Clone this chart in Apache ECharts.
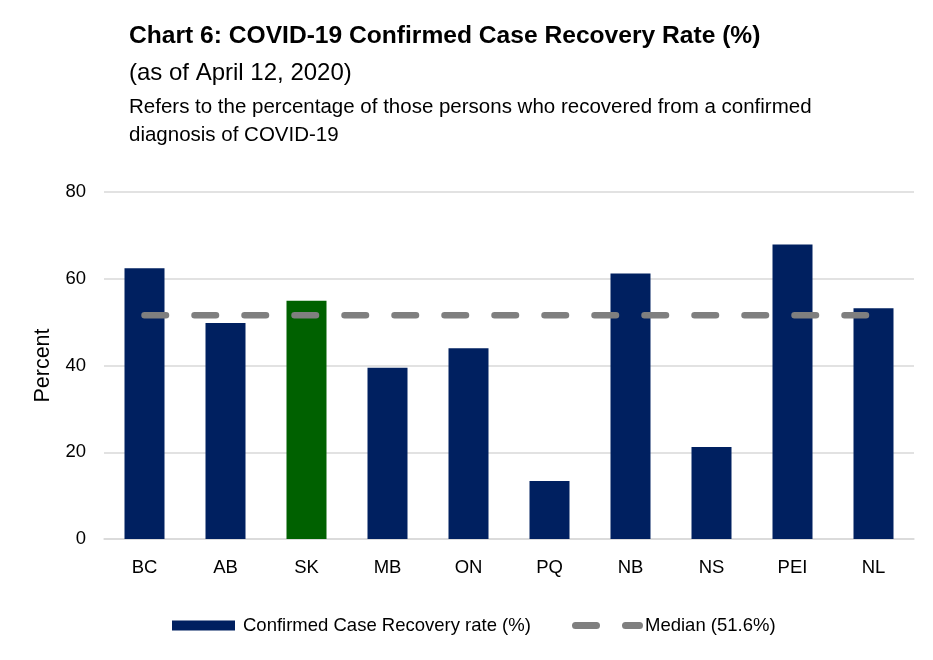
<!DOCTYPE html>
<html>
<head>
<meta charset="utf-8">
<script src="https://cdn.jsdelivr.net/npm/echarts@6/dist/echarts.min.js"></script>
<style>
  html, body { margin: 0; padding: 0; background: #fff; }
  #chart { width: 933px; height: 660px; }
</style>
</head>
<body>
<div id="chart"></div>
<script>
var provinces = ["BC", "AB", "SK", "MB", "ON", "PQ", "NB", "NS", "PEI", "NL"];
var recoveryRate = [62.4, 49.8, 54.9, 39.5, 44.0, 13.4, 61.2, 21.2, 67.9, 53.2];
var medianRate = 51.6;
var yTicks = { min: 0, max: 80, interval: 20 };
var highlight = "SK";

var FONT = "'Liberation Sans', Arial, sans-serif";
var NAVY = "#002060";
var GREEN = "#006100";
var GREY = "#7f7f7f";

// two rounded dashes, same look as the median line (drawn 71 x 7)
var DASH_ICON = "path://M3.5,0H24.5A3.5,3.5,0,0,1,24.5,7H3.5A3.5,3.5,0,0,1,3.5,0Z" +
  "M53.5,0H67.5A3.5,3.5,0,0,1,67.5,7H53.5A3.5,3.5,0,0,1,53.5,0Z";

var chart = echarts.init(document.getElementById("chart"), null, { renderer: "canvas" });

var option = {
  backgroundColor: "#fff",
  textStyle: { fontFamily: FONT, color: "#000" },
  title: [
    {
      text: "Chart 6: COVID-19 Confirmed Case Recovery Rate (%)",
      left: 129, top: 24, padding: 0,
      textStyle: { fontFamily: FONT, fontSize: 24.6, fontWeight: "bold", color: "#000" }
    },
    {
      text: "(as of April 12, 2020)",
      left: 129, top: 61, padding: 0,
      textStyle: { fontFamily: FONT, fontSize: 24, fontWeight: "normal", color: "#000" }
    },
    {
      text: "Refers to the percentage of those persons who recovered from a confirmed\ndiagnosis of COVID-19",
      left: 129, top: 93, padding: 0,
      textStyle: { fontFamily: FONT, fontSize: 20.5, fontWeight: "normal", color: "#000", lineHeight: 28.5 }
    }
  ],
  grid: { left: 104, right: 19, top: 192, bottom: 121, containLabel: false },
  legend: [
    {
      left: 172,
      top: 616,
      padding: 0,
      itemWidth: 63,
      itemHeight: 10,
      textStyle: { fontFamily: FONT, fontSize: 18.5, color: "#000", padding: [0, 0, 0, 3] },
      data: [{ name: "Confirmed Case Recovery rate (%)", icon: "rect" }]
    },
    {
      left: 572,
      top: 616,
      padding: 0,
      itemWidth: 71,
      itemHeight: 7,
      textStyle: { fontFamily: FONT, fontSize: 18.5, color: "#000", padding: [0, 0, 0, -3] },
      data: [{ name: "Median (51.6%)", icon: DASH_ICON, itemStyle: { color: GREY, borderWidth: 0 } }]
    }
  ],
  xAxis: {
    type: "category",
    data: provinces,
    axisTick: { show: false },
    axisLine: { show: true, lineStyle: { color: "#d9d9d9", width: 1.5 } },
    axisLabel: { fontFamily: FONT, fontSize: 18.5, color: "#000", margin: 19 }
  },
  yAxis: {
    type: "value",
    min: yTicks.min,
    max: yTicks.max,
    interval: yTicks.interval,
    name: "Percent",
    nameLocation: "middle",
    nameGap: 48,
    nameTextStyle: { fontFamily: FONT, fontSize: 21.5, color: "#000" },
    axisLine: { show: false },
    axisTick: { show: false },
    axisLabel: { fontFamily: FONT, fontSize: 18.5, color: "#000", margin: 18 },
    splitLine: { lineStyle: { color: "#d9d9d9", width: 1.5 } }
  },
  series: [
    {
      name: "Confirmed Case Recovery rate (%)",
      type: "bar",
      barWidth: 40,
      color: NAVY,
      data: recoveryRate.map(function (v, i) {
        return provinces[i] === highlight ? { value: v, itemStyle: { color: GREEN } } : v;
      }),
      itemStyle: { color: NAVY }
    },
    {
      name: "Median (51.6%)",
      type: "line",
      symbol: "none",
      color: GREY,
      z: 3,
      data: provinces.map(function () { return medianRate; }),
      lineStyle: { color: GREY, width: 6.5, type: [21.5, 28.5], cap: "round" }
    }
  ]
};

chart.setOption(option);
</script>
</body>
</html>
